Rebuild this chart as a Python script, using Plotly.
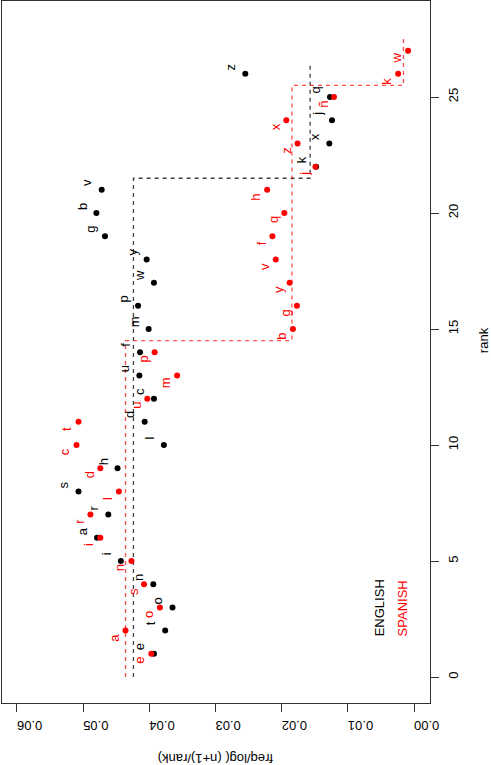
import plotly.graph_objects as go

# ---- data ----
en_letters = ["e", "t", "o", "n", "i", "a", "r", "s", "h", "l", "d", "c", "u",
              "f", "m", "p", "w", "y", "g", "b", "v", "k", "x", "j", "q", "z"]
en_values = [0.0393, 0.0376, 0.0365, 0.0394, 0.0443, 0.0479, 0.0462, 0.0507, 0.0448,
             0.0378, 0.0407, 0.0393, 0.0415, 0.0414, 0.0401, 0.0417, 0.0393, 0.0404,
             0.0467, 0.0480, 0.0472, 0.0148, 0.0128, 0.0124, 0.0127, 0.0255]

es_letters = ["e", "a", "o", "s", "n", "i", "r", "l", "d", "c", "t", "u", "m", "p",
              "b", "g", "y", "v", "f", "q", "h", "j", "z", "x", "ñ", "k", "w"]
es_values = [0.0397, 0.0436, 0.0384, 0.0408, 0.0427, 0.0474, 0.0489, 0.0446, 0.0474,
             0.0510, 0.0507, 0.0403, 0.0358, 0.0392, 0.0183, 0.0177, 0.0188, 0.0209,
             0.0214, 0.0196, 0.0222, 0.0149, 0.0176, 0.0193, 0.0121, 0.0024, 0.0009]

en_breaks = [0, 21.5, 26.5]
en_levels = [0.0424, 0.0157]
es_breaks = [0, 14.5, 25.5, 27.5]
es_levels = [0.0436, 0.01845, 0.0016]

rank_ticks = [0, 5, 10, 15, 20, 25]
freq_ticks = [0.00, 0.01, 0.02, 0.03, 0.04, 0.05, 0.06]
freq_tick_labels = ["0.00", "0.01", "0.02", "0.03", "0.04", "0.05", "0.06"]

FONT = "Liberation Sans, Arial, Helvetica, sans-serif"
RED = "#ff0000"


def step_path(breaks, levels):
    xs, ys = [], []
    for i, lv in enumerate(levels):
        xs += [lv, lv]
        ys += [breaks[i], breaks[i + 1]]
    return xs, ys


fig = go.Figure()

ex, ey = step_path(en_breaks, en_levels)
sx, sy = step_path(es_breaks, es_levels)
fig.add_trace(go.Scatter(x=ex, y=ey, mode="lines",
                         line=dict(color="rgba(0,0,0,0.75)", width=1.3, dash="4px,4px"),
                         hoverinfo="skip", showlegend=False))
fig.add_trace(go.Scatter(x=sx, y=sy, mode="lines",
                         line=dict(color="rgba(255,0,0,0.7)", width=1.3, dash="4px,4px"),
                         hoverinfo="skip", showlegend=False))

en_rank = list(range(1, len(en_values) + 1))
es_rank = list(range(1, len(es_values) + 1))

fig.add_trace(go.Scatter(x=en_values, y=en_rank, mode="markers",
                         marker=dict(color="black", size=6), showlegend=False))
fig.add_trace(go.Scatter(x=es_values, y=es_rank, mode="markers",
                         marker=dict(color=RED, size=6), showlegend=False))

annotations = []
for r, v, l in zip(en_rank, en_values, en_letters):
    annotations.append(dict(x=v + 0.0022, y=r + 0.3, xref="x", yref="y", text=l,
                            showarrow=False, textangle=-90,
                            xanchor="center", yanchor="middle",
                            font=dict(family=FONT, size=13, color="black")))
for r, v, l in zip(es_rank, es_values, es_letters):
    annotations.append(dict(x=v + 0.0017, y=r - 0.3, xref="x", yref="y", text=l,
                            showarrow=False, textangle=-90,
                            xanchor="center", yanchor="middle",
                            font=dict(family=FONT, size=13, color=RED)))

# legend texts
annotations.append(dict(x=0.881, y=0.135, xref="paper", yref="paper", text="ENGLISH",
                        showarrow=False, textangle=-90, xanchor="center", yanchor="middle",
                        font=dict(family=FONT, size=13, color="black")))
annotations.append(dict(x=0.935, y=0.135, xref="paper", yref="paper", text="SPANISH",
                        showarrow=False, textangle=-90, xanchor="center", yanchor="middle",
                        font=dict(family=FONT, size=13, color=RED)))
# axis titles
annotations.append(dict(x=1.124, y=0.517, xref="paper", yref="paper", text="rank",
                        showarrow=False, textangle=-90, xanchor="center", yanchor="middle",
                        font=dict(family=FONT, size=13, color="black")))
annotations.append(dict(x=0.5, y=-0.078, xref="paper", yref="paper",
                        text="freq/log( (n+1)/rank)",
                        showarrow=False, textangle=180, xanchor="center", yanchor="middle",
                        font=dict(family=FONT, size=13, color="black")))

fig.update_layout(
    width=491, height=765,
    margin=dict(l=2, r=61, t=1, b=62),
    paper_bgcolor="white", plot_bgcolor="white",
    annotations=annotations,
    showlegend=False,
    font=dict(family=FONT, size=13, color="black"),
)
fig.update_xaxes(range=[0.06226, -0.00241], tickvals=freq_ticks, ticktext=freq_tick_labels,
                 tickangle=180, ticks="outside", ticklen=8, tickcolor="#333",
                 ticklabelstandoff=6,
                 showline=True, linecolor="#333", linewidth=1, mirror=True,
                 showgrid=False, zeroline=False,
                 tickfont=dict(family=FONT, size=13, color="black"))
fig.update_yaxes(range=[-1.12, 29.14], tickvals=rank_ticks, side="right",
                 tickangle=-90, ticks="outside", ticklen=8, tickcolor="#333",
                 ticklabelstandoff=3,
                 showline=True, linecolor="#333", linewidth=1, mirror=True,
                 showgrid=False, zeroline=False,
                 tickfont=dict(family=FONT, size=13, color="black"))

fig.write_html("out.html", config={"displayModeBar": False},
               post_script="document.body.style.margin='0px';document.body.style.overflow='hidden';")
